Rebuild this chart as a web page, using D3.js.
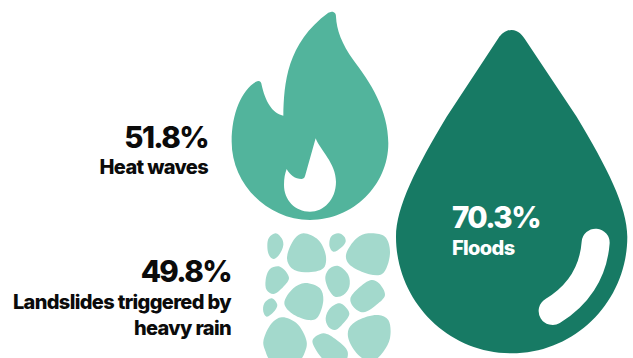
<!DOCTYPE html>
<html><head><meta charset="utf-8">
<script src="https://cdn.jsdelivr.net/npm/d3@7"></script>
<style>html,body{margin:0;padding:0;background:#fff;overflow:hidden}svg{display:block}
text{font-family:Inter,sans-serif;font-weight:800}</style></head>
<body><svg id="c" width="633" height="358"></svg>
<script>
const categories = ["Heat waves","Landslides triggered by heavy rain","Floods"];
const values = [51.8,49.8,70.3];
const colors = ["#52b49c","#a3d9cc","#177a64"];
const textColors = ["#0b0b0b","#0b0b0b","#ffffff"];
const labelLines = [["Heat waves"],["Landslides triggered by","heavy rain"],["Floods"]];
const anchors = ["end","end","start"];
const textX = [208,231,452];
const valueY = [148,282,228];
const flameOuter = "M335,35C345,35 348,42 348,50C350,90 365,130 400,180C450,245 505,330 505,430C505,555 400,660 270,660C140,660 35,550 35,425C35,340 65,270 108,245C118,240 124,245 125,255C135,300 155,340 190,347C192,250 200,130 325,38Z";
const flameInner = "M287,415C300,450 348,490 348,545C348,600 310,635 270,635C225,635 192,600 192,555C192,535 195,520 200,507C210,525 225,537 245,537C252,537 255,530 256,525Z";
const dropOuter = "M365,30C385,30 397,45 410,65L560,290C650,440 712,560 712,650C712,840 560,1000 365,1000C170,1000 18,840 18,650C18,560 80,440 170,290L325,55C335,40 348,30 365,30Z";
const dropShine = "M617,668C610,760 560,830 488,873";
const stones = [
 [[62,25],[80,40],[85,60],[72,90],[55,102],[42,90],[37,60],[42,38]],
 [[145,25],[190,45],[213,95],[205,130],[150,142],[110,130],[96,100],[120,40]],
 [[250,25],[268,35],[272,50],[258,68],[235,80],[224,65],[228,35]],
 [[340,25],[390,35],[405,85],[380,148],[320,140],[280,115],[273,90],[305,40]],
 [[75,125],[102,158],[85,185],[55,207],[35,195],[32,165],[45,132]],
 [[250,123],[280,150],[283,185],[265,210],[240,215],[222,195],[211,155],[225,130]],
 [[350,165],[372,175],[390,210],[370,235],[325,262],[295,245],[286,222],[310,190]],
 [[150,174],[195,190],[205,225],[185,280],[160,285],[110,265],[88,235],[115,190]],
 [[50,220],[67,240],[55,262],[35,275],[25,260],[28,235]],
 [[255,235],[283,265],[265,295],[240,315],[220,305],[212,280],[225,250]],
 [[80,277],[125,295],[155,350],[150,380],[130,410],[50,410],[30,375],[25,350],[50,295]],
 [[205,325],[245,345],[278,380],[270,410],[215,410],[180,370],[173,345]],
 [[370,270],[400,285],[405,340],[385,380],[350,410],[310,390],[280,340],[282,310],[310,285]]
];
const svg = d3.select("#c");
const fmt = d => d3.format(".1f")(d)+"%";
const flame = svg.append("g").attr("transform","translate(220,0) scale(0.3333)");
flame.append("path").attr("d",flameOuter).attr("fill",colors[0]);
flame.append("path").attr("d",flameInner).attr("fill","#fff");
const rock = svg.append("g").attr("transform","translate(255,225) scale(0.3333)");
const blob = d3.line().curve(d3.curveCatmullRomClosed.alpha(0.5));
rock.selectAll("path").data(stones).join("path").attr("d",blob).attr("fill",colors[1]);
const drop = svg.append("g").attr("transform","translate(390,20) scale(0.3333)");
drop.append("path").attr("d",dropOuter).attr("fill",colors[2]);
drop.append("path").attr("d",dropShine).attr("fill","none").attr("stroke","#fff").attr("stroke-width",84).attr("stroke-linecap","round");
categories.forEach((c,i)=>{
  svg.append("text").attr("x",textX[i]).attr("y",valueY[i]).attr("text-anchor",anchors[i])
    .attr("fill",textColors[i]).attr("font-size",29.5).attr("letter-spacing",-1.6).text(fmt(values[i]));
  labelLines[i].forEach((l,j)=>{
    svg.append("text").attr("x",textX[i]).attr("y",valueY[i]+(i==0?26:27)+j*26).attr("text-anchor",anchors[i])
      .attr("fill",textColors[i]).attr("font-size",20).attr("letter-spacing",-0.65).text(l);
  });
});
</script></body></html>
